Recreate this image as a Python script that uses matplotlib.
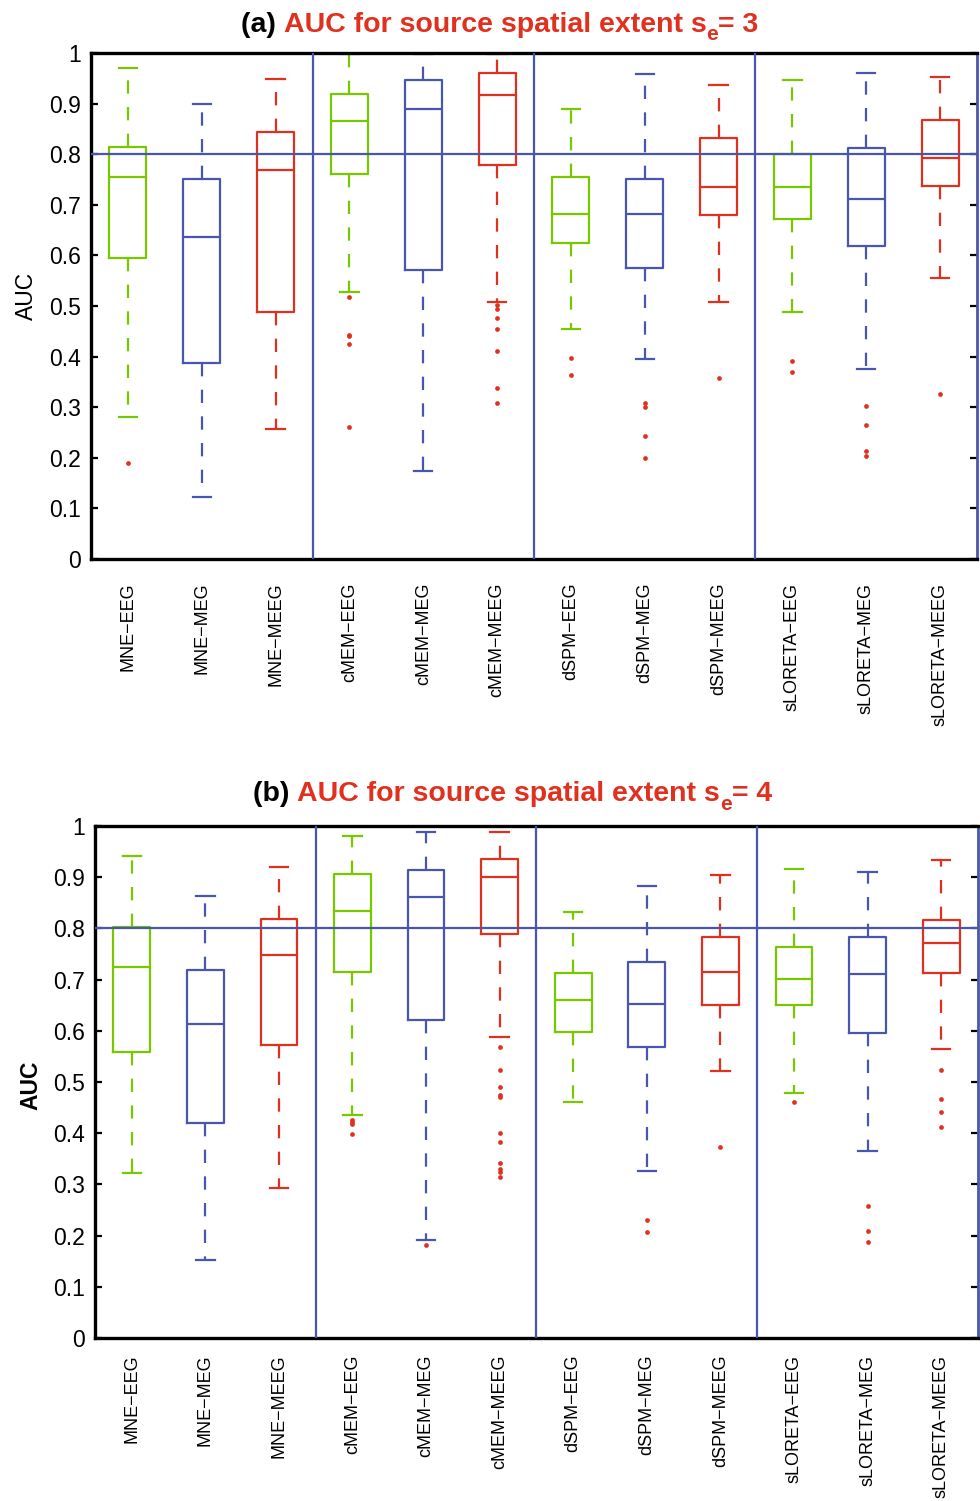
import numpy as np
import matplotlib.pyplot as plt

plt.rcParams['font.family'] = ['Liberation Sans', 'DejaVu Sans']

# methods / labels
methods = ['MNE\u2212EEG', 'MNE\u2212MEG', 'MNE\u2212MEEG',
           'cMEM\u2212EEG', 'cMEM\u2212MEG', 'cMEM\u2212MEEG',
           'dSPM\u2212EEG', 'dSPM\u2212MEG', 'dSPM\u2212MEEG',
           'sLORETA\u2212EEG', 'sLORETA\u2212MEG', 'sLORETA\u2212MEEG']
ytick_vals = [0, 0.1, 0.2, 0.3, 0.4, 0.5, 0.6, 0.7, 0.8, 0.9, 1.0]
ytick_labels = ['0', '0.1', '0.2', '0.3', '0.4', '0.5', '0.6', '0.7', '0.8', '0.9', '1']

# (a) se = 3
lo_a = [0.281, 0.123, 0.256, 0.527, 0.173, 0.507, 0.455, 0.395, 0.507, 0.488, 0.375, 0.556]
q1_a = [0.595, 0.388, 0.489, 0.761, 0.572, 0.778, 0.624, 0.575, 0.680, 0.672, 0.618, 0.738]
med_a = [0.754, 0.636, 0.769, 0.866, 0.889, 0.916, 0.682, 0.682, 0.736, 0.736, 0.711, 0.792]
q3_a = [0.815, 0.751, 0.844, 0.918, 0.947, 0.960, 0.754, 0.751, 0.831, 0.801, 0.813, 0.867]
hi_a = [0.970, 0.900, 0.949, 0.998, 0.998, 0.998, 0.889, 0.958, 0.936, 0.946, 0.960, 0.952]
fliers_a = [[0.189], [], [],
            [0.518, 0.443, 0.441, 0.424, 0.260], [],
            [0.501, 0.494, 0.477, 0.455, 0.412, 0.337, 0.308],
            [0.397, 0.363], [0.308, 0.301, 0.244, 0.199], [0.357],
            [0.391, 0.370], [0.303, 0.264, 0.214, 0.203], [0.326]]

# (b) se = 4
lo_b = [0.323, 0.152, 0.293, 0.436, 0.191, 0.588, 0.461, 0.327, 0.521, 0.478, 0.366, 0.565]
q1_b = [0.558, 0.419, 0.573, 0.715, 0.622, 0.790, 0.598, 0.568, 0.650, 0.650, 0.595, 0.713]
med_b = [0.724, 0.613, 0.749, 0.834, 0.862, 0.901, 0.661, 0.653, 0.715, 0.702, 0.711, 0.771]
q3_b = [0.802, 0.719, 0.818, 0.907, 0.914, 0.935, 0.713, 0.734, 0.783, 0.764, 0.784, 0.816]
hi_b = [0.941, 0.864, 0.919, 0.980, 0.988, 0.988, 0.832, 0.883, 0.905, 0.916, 0.911, 0.934]
fliers_b = [[], [], [],
            [0.426, 0.422, 0.418, 0.398], [0.182],
            [0.568, 0.524, 0.491, 0.474, 0.470, 0.401, 0.382, 0.341, 0.331, 0.325, 0.315],
            [], [0.230, 0.207], [0.373],
            [0.461], [0.258, 0.208, 0.188], [0.523, 0.467, 0.441, 0.412]]

GREEN = '#78c800'
BLUE = '#4856b0'
RED = '#e0301e'
box_colors = [GREEN, BLUE, RED]


def draw_panel(ax, lo, q1, med, q3, hi, fliers, label_weight, xpad, label_x, label_y):
    stats = []
    for i in range(len(methods)):
        stats.append(dict(whislo=lo[i], q1=q1[i], med=med[i], q3=q3[i],
                          whishi=hi[i], fliers=fliers[i]))
    pos = np.arange(1, len(methods) + 1)
    art = ax.bxp(stats, positions=pos, widths=0.5, showfliers=True,
                 boxprops=dict(linewidth=1.6),
                 whiskerprops=dict(linewidth=1.6, linestyle=(0, (6, 6))),
                 capprops=dict(linewidth=1.6),
                 medianprops=dict(linewidth=1.6),
                 flierprops=dict(marker='o', markersize=3.4, markerfacecolor=RED,
                                 markeredgecolor='none', linestyle='none'))
    for i in range(len(methods)):
        c = box_colors[i % 3]
        art['boxes'][i].set_color(c)
        art['medians'][i].set_color(c)
        for w in art['whiskers'][2 * i:2 * i + 2]:
            w.set_color(c)
        for cap in art['caps'][2 * i:2 * i + 2]:
            cap.set_color(c)

    ax.axhline(0.8, color=BLUE, lw=1.6, zorder=5)
    for x in [3.5, 6.5, 9.5]:
        ax.axvline(x, color=BLUE, lw=1.6, zorder=5)

    ax.set_xlim(0.5, 12.5)
    ax.set_ylim(0, 1)
    ax.set_xticks(pos)
    ax.set_xticklabels(methods, rotation=90, fontsize=13)
    ax.set_yticks(ytick_vals)
    ax.set_yticklabels(ytick_labels)
    ax.tick_params(axis='y', direction='in', length=5, width=1.6,
                   left=True, right=True, labelsize=16.5, pad=7)
    ax.tick_params(axis='x', length=0, pad=xpad)
    for s in ['left', 'top', 'bottom']:
        ax.spines[s].set_linewidth(2.4)
        ax.spines[s].set_color('black')
    ax.spines['right'].set_linewidth(2)
    ax.spines['right'].set_color(BLUE)
    ax.set_ylabel('AUC', fontsize=16.5, fontweight=label_weight)
    ax.yaxis.set_label_coords(label_x, label_y)


def title(ax, fig, x, y, tag, text, sub, tail):
    size = 20.5
    t1 = fig.text(x, y, tag, fontsize=size, fontweight='bold', color='black',
                  ha='left', va='bottom')
    t2 = ax.annotate(text, xy=(1, 0), xycoords=t1, fontsize=size,
                     fontweight='bold', color=RED, ha='left', va='bottom',
                     annotation_clip=False)
    t3 = ax.annotate(sub, xy=(1, 0), xycoords=t2, xytext=(0, -5),
                     textcoords='offset points', fontsize=15,
                     fontweight='bold', color=RED, ha='left', va='bottom',
                     annotation_clip=False)
    ax.annotate(tail, xy=(1, 0), xycoords=(t3, t2), fontsize=size,
                fontweight='bold', color=RED, ha='left', va='bottom',
                annotation_clip=False)


fig = plt.figure(figsize=(9.8, 15.01), dpi=100)
ax_a = fig.add_axes([0.0929, 0.6276, 0.904, 0.3371])
draw_panel(ax_a, lo_a, q1_a, med_a, q3_a, hi_a, fliers_a, 'normal', 17, -0.060, 0.52)
title(ax_a, fig, 0.246, 0.975, '(a) ', 'AUC for source spatial extent s', 'e', '= 3')

ax_b = fig.add_axes([0.0969, 0.1086, 0.901, 0.3411])
draw_panel(ax_b, lo_b, q1_b, med_b, q3_b, hi_b, fliers_b, 'bold', 12, -0.059, 0.494)
title(ax_b, fig, 0.258, 0.4625, '(b) ', 'AUC for source spatial extent s', 'e', '= 4')

fig.savefig('out.png', dpi=100)
